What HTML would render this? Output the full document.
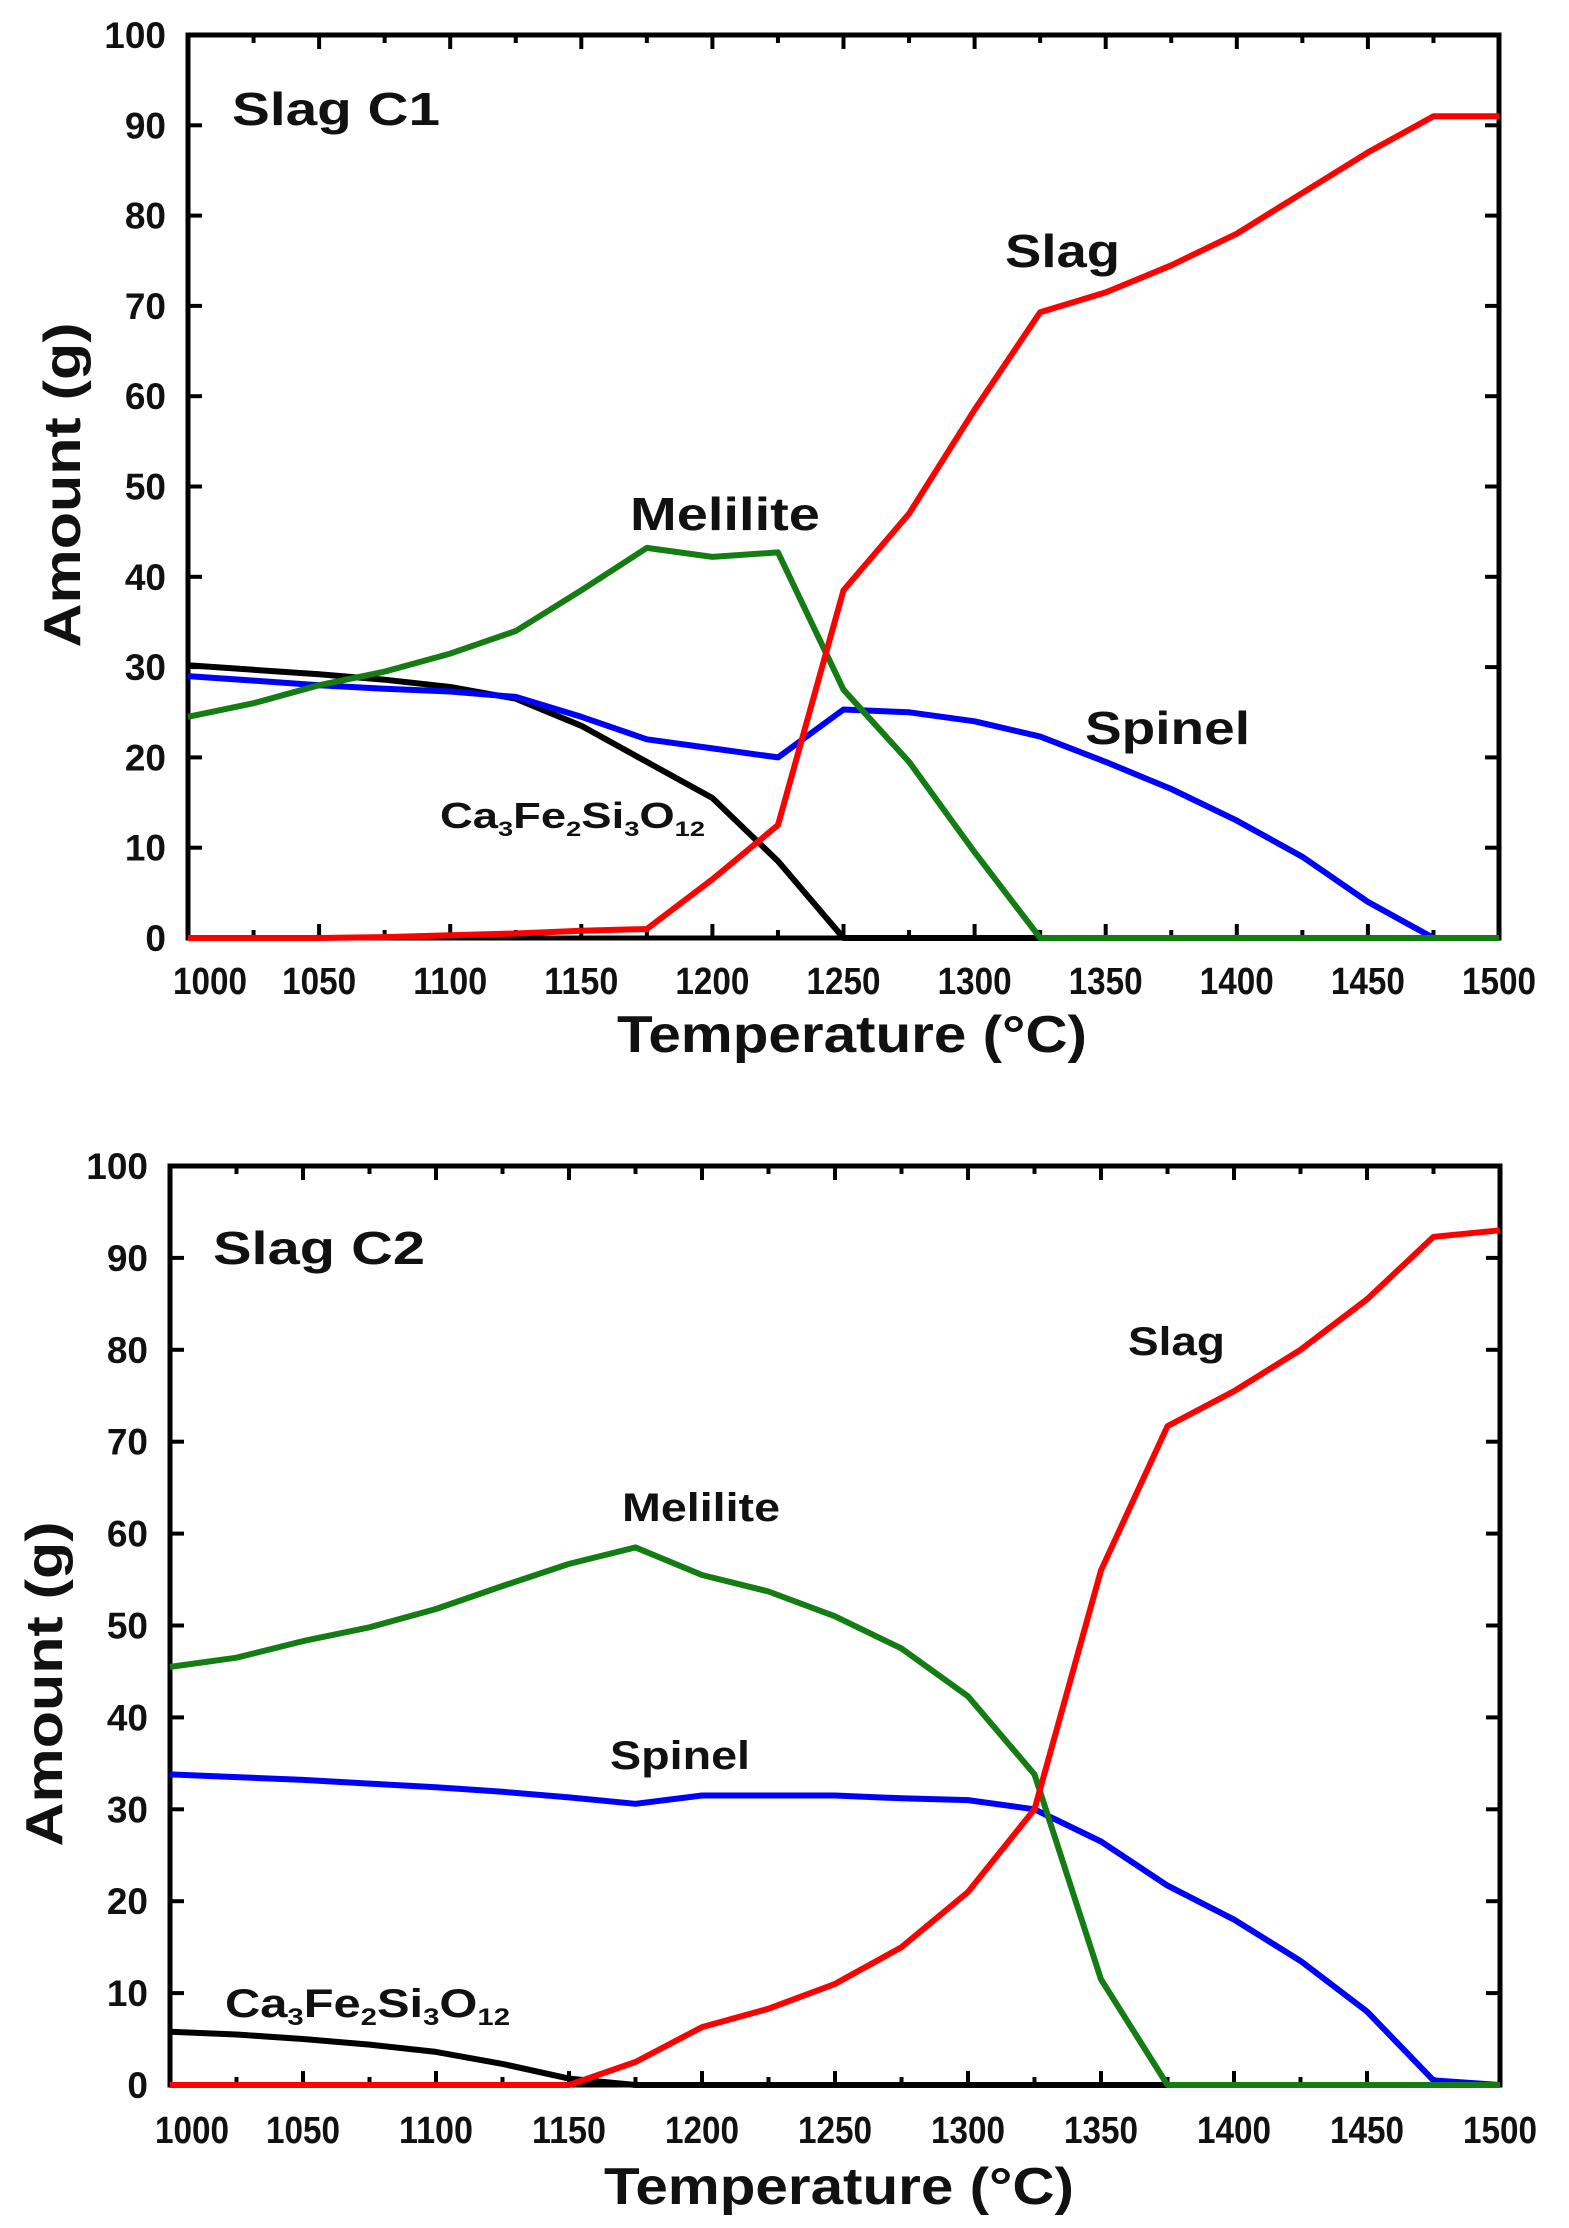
<!DOCTYPE html>
<html><head><meta charset="utf-8"><style>
html,body{margin:0;padding:0;background:#fff;}
svg{display:block;}
text{font-family:"Liberation Sans",Arial,sans-serif;font-weight:bold;fill:#111;}
</style></head><body>
<svg id="svg" width="1569" height="2228" viewBox="0 0 1569 2228" xmlns="http://www.w3.org/2000/svg"></svg>
<script>
const xTicks = [1000,1050,1100,1150,1200,1250,1300,1350,1400,1450,1500];
const yTicks = [0,10,20,30,40,50,60,70,80,90,100];

const c1Temps = [1000,1025,1050,1075,1100,1125,1150,1175,1200,1225,1250,1275,1300,1325,1350,1375,1400,1425,1450,1475,1500];
const c1Slag = [0,0,0,0.1,0.3,0.5,0.8,1,6.5,12.5,38.5,47,58.5,69.3,71.5,74.5,78,82.5,87,91,91];
const c1Melilite = [24.5,26,28,29.5,31.5,34,38.5,43.2,42.2,42.7,27.5,19.5,9.5,0,0,0,0,0,0,0,0];
const c1Spinel = [29,28.5,28,27.6,27.3,26.7,24.5,22,21,20,25.3,25,24,22.3,19.5,16.5,13,9,4,0,0];
const c1Garnet = [30.2,29.7,29.2,28.6,27.8,26.5,23.5,19.5,15.5,8.5,0,0,0,0,0,0,0,0,0,0,0];

const c2Temps = [1000,1025,1050,1075,1100,1125,1150,1175,1200,1225,1250,1275,1300,1325,1350,1375,1400,1425,1450,1475,1500];
const c2Slag = [0,0,0,0,0,0,0,2.5,6.3,8.3,11,15,21,30,56,71.7,75.5,80,85.5,92.3,93];
const c2Melilite = [45.5,46.5,48.3,49.8,51.8,54.3,56.7,58.5,55.5,53.7,51,47.5,42.3,33.8,11.5,0,0,0,0,0,0];
const c2Spinel = [33.8,33.5,33.2,32.8,32.4,31.9,31.3,30.6,31.5,31.5,31.5,31.2,31,30,26.5,21.7,18,13.5,8,0.5,0];
const c2Garnet = [5.8,5.5,5,4.4,3.6,2.3,0.7,0,0,0,0,0,0,0,0,0,0,0,0,0,0];

const NS = "http://www.w3.org/2000/svg";
const svg = document.getElementById('svg');
function mk(tag, attrs, parent){const e=document.createElementNS(NS,tag);for(const k in attrs)e.setAttribute(k,attrs[k]);(parent||svg).appendChild(e);return e;}

function chart(cfg){
  const g = mk('g',{});
  
  
  const X = t => cfg.L + (t-1000)/500*(cfg.R-cfg.L);
  const Y = v => cfg.B - v/100*(cfg.B-cfg.T);
  const fr = mk('rect',{x:cfg.L,y:cfg.T,width:cfg.R-cfg.L,height:cfg.B-cfg.T,fill:'none',stroke:'#000','stroke-width':5},g);
  
  
  xTicks.forEach((t,i)=>{
    const tk = mk('line',{x1:X(t),x2:X(t),y1:cfg.B,y2:cfg.B-14,stroke:'#000','stroke-width':4},g);
    
    
    mk('line',{x1:X(t),x2:X(t),y1:cfg.T,y2:cfg.T+14,stroke:'#000','stroke-width':4},g);
    if(t<1500){
      mk('line',{x1:X(t+25),x2:X(t+25),y1:cfg.B,y2:cfg.B-8,stroke:'#000','stroke-width':4},g);
      mk('line',{x1:X(t+25),x2:X(t+25),y1:cfg.T,y2:cfg.T+8,stroke:'#000','stroke-width':4},g);
    }
    const lb = mk('text',{x:i===0?X(t)+22:X(t),y:cfg.xLabY,'text-anchor':'middle','font-size':38,textLength:74,lengthAdjust:'spacingAndGlyphs'},g);
    lb.textContent = t;
    
    
  });
  yTicks.forEach(v=>{
    mk('line',{x1:cfg.L,x2:cfg.L+14,y1:Y(v),y2:Y(v),stroke:'#000','stroke-width':4},g);
    mk('line',{x1:cfg.R,x2:cfg.R-14,y1:Y(v),y2:Y(v),stroke:'#000','stroke-width':4},g);
    const lb = mk('text',{x:cfg.L-22,y:Y(v)+13,'text-anchor':'end','font-size':37},g);
    lb.textContent = v;
    
    
  });
  const series = [
    ['garnet-line', cfg.garnet, '#000'],
    ['spinel-line', cfg.sp, '#0000ff'],
    ['melilite-line', cfg.mel, '#137d13'],
    ['slag-line', cfg.slag, '#ff0000']
  ];
  series.forEach(s=>{
    const pts = cfg.temps.map((t,i)=>X(t).toFixed(1)+','+Y(s[1][i]).toFixed(1)).join(' ');
    const pl = mk('polyline',{points:pts,fill:'none',stroke:s[2],'stroke-width':6,'stroke-linejoin':'round'},g);
    
    
  });
  const xt = mk('text',{x:cfg.xtX,y:cfg.xtY,'text-anchor':'middle','font-size':52,textLength:470,lengthAdjust:'spacingAndGlyphs'},g);
  xt.textContent = 'Temperature (°C)';
  
  
  const yt = mk('text',{x:0,y:0,'text-anchor':'middle','font-size':52,textLength:325,lengthAdjust:'spacingAndGlyphs',transform:`translate(${cfg.ytX},${cfg.ytY}) rotate(-90)`},g);
  yt.textContent = 'Amount  (g)';
  
  
  cfg.labels.forEach(l=>{
    const t = mk('text',{x:l.x,y:l.y,'font-size':l.fs,textLength:l.w,lengthAdjust:'spacingAndGlyphs'},g);
    if(l.sub){
      t.innerHTML = 'Ca<tspan font-size="'+(l.fs*0.6)+'" dy="8">3</tspan><tspan dy="-8">Fe</tspan><tspan font-size="'+(l.fs*0.6)+'" dy="8">2</tspan><tspan dy="-8">Si</tspan><tspan font-size="'+(l.fs*0.6)+'" dy="8">3</tspan><tspan dy="-8">O</tspan><tspan font-size="'+(l.fs*0.6)+'" dy="8">12</tspan>';
    } else t.textContent = l.t;
    
    
  });
}

chart({name:'chart-slag-c1',L:188,R:1499,T:35,B:938,xLabY:994,xtX:852,xtY:1052,ytX:80,ytY:485,
  temps:c1Temps,slag:c1Slag,mel:c1Melilite,sp:c1Spinel,garnet:c1Garnet,
  labels:[
    {t:'Slag C1',n:'chart-title',x:232,y:125,fs:46,w:208},
    {t:'Slag',n:'slag-label',x:1005,y:267,fs:46,w:115},
    {t:'Melilite',n:'melilite-label',x:630,y:530,fs:46,w:190},
    {t:'Spinel',n:'spinel-label',x:1085,y:744,fs:46,w:165},
    {sub:true,n:'garnet-label',x:440,y:828,fs:36,w:265}
  ]});

chart({name:'chart-slag-c2',L:170,R:1500,T:1166,B:2085,xLabY:2143,xtX:839,xtY:2204,ytX:62,ytY:1684,
  temps:c2Temps,slag:c2Slag,mel:c2Melilite,sp:c2Spinel,garnet:c2Garnet,
  labels:[
    {t:'Slag C2',n:'chart-title',x:213,y:1264,fs:46,w:212},
    {t:'Slag',n:'slag-label',x:1128,y:1355,fs:40,w:97},
    {t:'Melilite',n:'melilite-label',x:622,y:1521,fs:40,w:158},
    {t:'Spinel',n:'spinel-label',x:610,y:1769,fs:40,w:140},
    {sub:true,n:'garnet-label',x:225,y:2017,fs:40,w:285}
  ]});
</script>
</body></html>
